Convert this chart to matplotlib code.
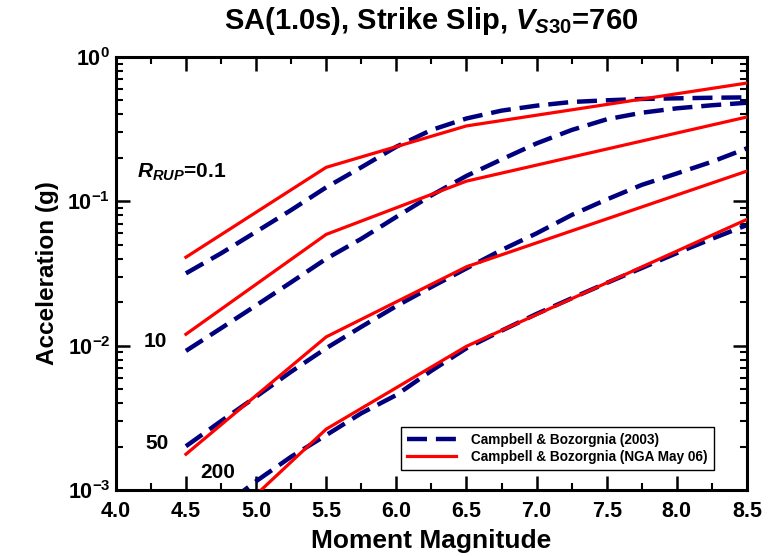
import matplotlib
matplotlib.use("Agg")
import matplotlib.pyplot as plt
from matplotlib.ticker import FixedLocator, LogLocator, NullFormatter

plt.rcParams['font.family'] = ['Liberation Sans', 'DejaVu Sans']
plt.rcParams['font.weight'] = 'bold'
plt.rcParams['mathtext.fontset'] = 'custom'
plt.rcParams['mathtext.rm'] = 'Liberation Sans:bold'
plt.rcParams['mathtext.bf'] = 'Liberation Sans:bold'
plt.rcParams['mathtext.it'] = 'Liberation Sans:italic:bold'

# Campbell & Bozorgnia (NGA May 06) (red, piecewise)
mag_nga = [4.5, 5.5, 6.5, 8.5]
nga_r01 = [0.041, 0.172, 0.333, 0.66]
nga_r10 = [0.012, 0.059, 0.138, 0.384]
nga_r50 = [0.00177, 0.0115, 0.0352, 0.162]
nga_r200 = [0.000326, 0.00264, 0.0099, 0.075]

# Campbell & Bozorgnia (2003) (blue dashed)
mag_cb = [4.5, 4.75, 5.0, 5.25, 5.5, 5.75, 6.0, 6.25, 6.5,
          6.75, 7.0, 7.25, 7.5, 7.75, 8.0, 8.25, 8.5]
cb_r01 = [0.0317, 0.0436, 0.0615, 0.087, 0.125, 0.172, 0.239, 0.312, 0.375,
          0.425, 0.46, 0.488, 0.501, 0.512, 0.517, 0.522, 0.525]
cb_r10 = [0.0092, 0.0132, 0.019, 0.0275, 0.04, 0.055, 0.078, 0.11, 0.15,
          0.195, 0.252, 0.312, 0.37, 0.411, 0.441, 0.463, 0.482]
cb_r50 = [0.00201, 0.003, 0.00443, 0.0066, 0.0096, 0.0135, 0.0188, 0.0255, 0.0343,
          0.046, 0.06, 0.0804, 0.103, 0.13, 0.156, 0.188, 0.233]
cb_r200 = [0.0005, 0.00075, 0.00115, 0.0017, 0.0024, 0.0034, 0.00455, 0.0067, 0.0096,
           0.0127, 0.0166, 0.0213, 0.0272, 0.0345, 0.0438, 0.055, 0.0685]

xticks = [4.0, 4.5, 5.0, 5.5, 6.0, 6.5, 7.0, 7.5, 8.0, 8.5]
yticks = [1e-3, 1e-2, 1e-1, 1e0]
ytick_labels = [r'$10^{-3}$', r'$10^{-2}$', r'$10^{-1}$', r'$10^{0}$']

fig = plt.figure(figsize=(7.72, 5.56), dpi=100)
ax = fig.add_axes([0.150, 0.1187, 0.8176, 0.7788])

blue = '#00007f'
red = '#ff0000'
dash = (0, (4.5, 2.0))
for i, ys in enumerate([cb_r01, cb_r10, cb_r50, cb_r200]):
    ax.plot(mag_cb, ys, color=blue, lw=3.2, linestyle=dash,
            label='Campbell & Bozorgnia (2003)' if i == 0 else None, zorder=2)
for i, ys in enumerate([nga_r01, nga_r10, nga_r50, nga_r200]):
    ax.plot(mag_nga, ys, color=red, lw=2.3,
            label='Campbell & Bozorgnia (NGA May 06)' if i == 0 else None, zorder=3)

ax.set_yscale('log')
ax.set_xlim(4.0, 8.5)
ax.set_ylim(1e-3, 1e0)
ax.set_xticks(xticks)
ax.set_xticklabels([f'{v:.1f}' for v in xticks])
ax.xaxis.set_minor_locator(FixedLocator([v + 0.25 for v in xticks[:-1]]))
ax.set_yticks(yticks)
ax.set_yticklabels(ytick_labels)
ax.yaxis.set_minor_locator(LogLocator(base=10, subs=range(2, 10)))
ax.yaxis.set_minor_formatter(NullFormatter())

ax.tick_params(which='major', direction='in', length=10, width=1.8,
               top=True, right=True, labelsize=15.5, pad=4)
ax.tick_params(axis='x', which='major', pad=8)
ax.tick_params(which='minor', direction='in', length=5, width=1.5,
               top=True, right=True)
for s in ax.spines.values():
    s.set_linewidth(2.2)

ax.set_xlabel('Moment Magnitude', fontsize=19, fontweight='bold', labelpad=5)
ax.set_ylabel('Acceleration (g)', fontsize=17.5, fontweight='bold', labelpad=6)
ax.set_title(r'SA(1.0s), Strike Slip, $V_{S30}$=760', fontsize=21,
             fontweight='bold', pad=20)

ax.text(4.15, 0.16, r'$R_{RUP}$=0.1', fontsize=15, fontweight='bold',
        ha='left', va='center')
ax.text(4.2, 0.0107, '10', fontsize=15, fontweight='bold', ha='left', va='center')
ax.text(4.21, 0.0021, '50', fontsize=15, fontweight='bold', ha='left', va='center')
ax.text(4.6, 0.00132, '200', fontsize=15, fontweight='bold', ha='left', va='center')

leg = ax.legend(loc='lower right', bbox_to_anchor=(0.9477, 0.046), fontsize=9.8,
                frameon=True, fancybox=False, edgecolor='black', framealpha=1,
                handlelength=3.6, handletextpad=1.1, borderpad=0.45,
                labelspacing=0.2, borderaxespad=0)
leg.get_frame().set_linewidth(1.0)
for t in leg.get_texts():
    t.set_fontweight('bold')

fig.savefig('out.png', dpi=100)
